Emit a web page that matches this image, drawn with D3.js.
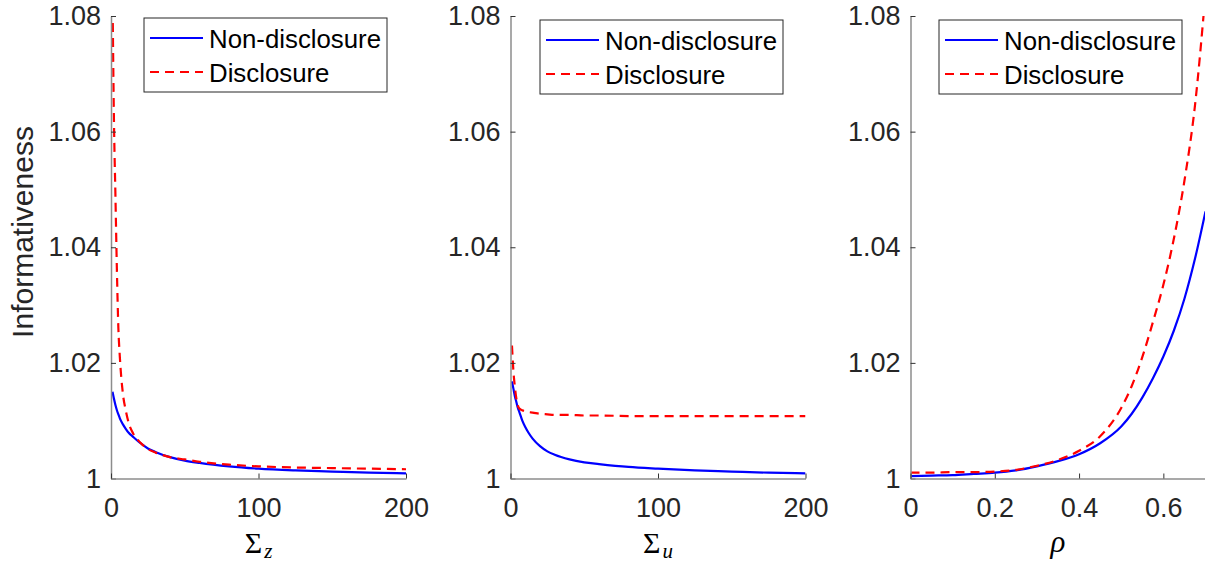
<!DOCTYPE html>
<html>
<head>
<meta charset="utf-8">
<script src="https://cdn.jsdelivr.net/npm/d3@7"></script>
<style>
  body { margin: 0; background: #fff; }
  svg { display: block; }
  .tick text { font-family: "Liberation Sans", Arial, sans-serif; font-size: 27px; fill: #262626; }
  .domain { stroke: #8c8c8c; stroke-width: 1.5; }
  .tick line { stroke: #333; stroke-width: 1; }
</style>
</head>
<body>
<div id="chart"></div>
<script>
// ---- data ----
const sigma = [1, 2, 3, 4, 5, 6, 8, 10, 12, 15, 20, 25, 30, 40, 50, 60, 80, 100, 125, 150, 175, 200];

// panel 1: Sigma_z
const sigZNonDisc = [1.0150, 1.0138, 1.0127, 1.0118, 1.0111, 1.0104, 1.0094, 1.0086, 1.0079, 1.0072, 1.0061,
  1.0052, 1.0046, 1.0037, 1.0031, 1.0027, 1.0021, 1.0017, 1.0014, 1.0012, 1.0010, 1.0009];
const sigZDisc = [1.0840, 1.0620, 1.0490, 1.0360, 1.0260, 1.0210, 1.0148, 1.0118, 1.0096, 1.0078, 1.0062,
  1.0051, 1.0045, 1.0037, 1.0033, 1.0029, 1.0024, 1.0021, 1.0019, 1.0018, 1.0017, 1.0016];

// panel 2: Sigma_u
const sigUNonDisc = [1.0168, 1.0155, 1.0142, 1.0132, 1.0122, 1.0115, 1.0100, 1.0089, 1.0080, 1.0069, 1.0056,
  1.0047, 1.0041, 1.0033, 1.0028, 1.0025, 1.0020, 1.0017, 1.0014, 1.0012, 1.0010, 1.0009];
const sigUDisc = [1.0230, 1.0185, 1.0158, 1.0138, 1.0126, 1.0121, 1.0118, 1.0116, 1.0115, 1.0114, 1.0112,
  1.0111, 1.0110, 1.0110, 1.0109, 1.0109, 1.0108, 1.0108, 1.0108, 1.0108, 1.0108, 1.0108];

// panel 3: rho
const rho = [0, 0.05, 0.1, 0.15, 0.2, 0.25, 0.3, 0.35, 0.4, 0.45, 0.5, 0.525, 0.55, 0.575, 0.6, 0.625, 0.65, 0.675, 0.7];
const rhoNonDisc = [1.0004, 1.0005, 1.0006, 1.0008, 1.0010, 1.0014, 1.0021, 1.0030, 1.0042, 1.0061, 1.0090,
  1.0112, 1.0140, 1.0173, 1.0211, 1.0256, 1.0311, 1.0380, 1.0462];
const rhoDisc = [1.0010, 1.0010, 1.0011, 1.0011, 1.0012, 1.0015, 1.0022, 1.0032, 1.0048, 1.0073, 1.0122,
  1.0160, 1.0210, 1.0270, 1.0335, 1.0415, 1.0515, 1.0645, 1.0840];

const yTicks = [1, 1.02, 1.04, 1.06, 1.08];
const seriesNames = ["Non-disclosure", "Disclosure"];

// ---- layout ----
const W = 1205, H = 563;
const TOP = 16, BOTTOM = 478.5, PW = 295;

const panels = [
  { left: 111, x: sigma, ys: [sigZNonDisc, sigZDisc], domain: [0, 200], ticks: [0, 100, 200], label: "z", legend: [33, 18] },
  { left: 510.5, x: sigma, ys: [sigUNonDisc, sigUDisc], domain: [0, 200], ticks: [0, 100, 200], label: "u", legend: [29.5, 20] },
  { left: 910.5, x: rho, ys: [rhoNonDisc, rhoDisc], domain: [0, 0.7], ticks: [0, 0.2, 0.4, 0.6], label: "rho", legend: [28.5, 20] }
];

const svg = d3.select("#chart").append("svg")
  .attr("width", W).attr("height", H);

const y = d3.scaleLinear().domain([1, 1.08]).range([BOTTOM, TOP]);

const styles = [
  { color: "#0000ff", dash: null },
  { color: "#ff0000", dash: "9,6" }
];

panels.forEach(function(p, i) {
  const x = d3.scaleLinear().domain(p.domain).range([p.left, p.left + PW]);

  // clip the curves to the plot box
  svg.append("clipPath").attr("id", "clip" + i)
    .append("rect")
    .attr("x", p.left).attr("y", TOP)
    .attr("width", PW).attr("height", BOTTOM - TOP);

  const line = d3.line()
    .x(function(d) { return x(d[0]); })
    .y(function(d) { return y(d[1]); })
    .curve(d3.curveMonotoneX);

  const g = svg.append("g").attr("clip-path", "url(#clip" + i + ")");
  p.ys.forEach(function(vals, k) {
    g.append("path")
      .datum(p.x.map(function(v, j) { return [v, vals[j]]; }))
      .attr("d", line)
      .attr("fill", "none")
      .attr("stroke", styles[k].color)
      .attr("stroke-width", 2.2)
      .attr("stroke-dasharray", styles[k].dash);
  });

  // axes (ticks pointing inward)
  svg.append("g")
    .attr("transform", "translate(" + p.left + ",0)")
    .call(d3.axisLeft(y).tickValues(yTicks)
      .tickFormat(function(d) { return d === 1 ? "1" : d.toFixed(2); })
      .tickSizeInner(-5).tickSizeOuter(0).tickPadding(10));

  svg.append("g")
    .attr("transform", "translate(0," + BOTTOM + ")")
    .call(d3.axisBottom(x).tickValues(p.ticks)
      .tickFormat(function(d) { return d === 0 ? "0" : String(d); })
      .tickSizeInner(-5).tickSizeOuter(0).tickPadding(19));

  // x label
  const cx = p.left + PW / 2;
  if (p.label === "rho") {
    svg.append("text")
      .attr("x", cx).attr("y", 552)
      .attr("text-anchor", "middle")
      .style("font-family", "'Liberation Serif', 'Times New Roman', serif")
      .style("font-style", "italic")
      .style("font-size", "31px")
      .text("ρ");
  } else {
    const t = svg.append("text")
      .attr("x", cx).attr("y", 553)
      .attr("text-anchor", "middle")
      .style("font-family", "'Liberation Serif', 'Times New Roman', serif")
      .style("font-size", "30px");
    t.append("tspan").text("Σ");
    t.append("tspan")
      .attr("dx", 2)
      .attr("dy", 5)
      .style("font-style", "italic")
      .style("font-size", "21px")
      .text(p.label);
  }

  // legend
  const lg = svg.append("g")
    .attr("transform", "translate(" + (p.left + p.legend[0]) + "," + p.legend[1] + ")");
  lg.append("rect")
    .attr("width", 243).attr("height", 74)
    .attr("fill", "#fff").attr("stroke", "#262626").attr("stroke-width", 1);
  seriesNames.forEach(function(name, k) {
    const ly = 20 + k * 34;
    lg.append("line")
      .attr("x1", 6).attr("x2", 59)
      .attr("y1", ly).attr("y2", ly)
      .attr("stroke", styles[k].color)
      .attr("stroke-width", 2)
      .attr("stroke-dasharray", styles[k].dash);
    lg.append("text")
      .attr("x", 65).attr("y", ly)
      .attr("dy", "0.38em")
      .style("font-family", "'Liberation Sans', Arial, sans-serif")
      .style("font-size", "25.8px")
      .style("fill", "#000")
      .text(name);
  });
});

// y label (first panel only)
svg.append("text")
  .attr("transform", "translate(33,232) rotate(-90)")
  .attr("text-anchor", "middle")
  .style("font-family", "'Liberation Sans', Arial, sans-serif")
  .style("font-size", "30px")
  .style("fill", "#262626")
  .text("Informativeness");
</script>
</body>
</html>
